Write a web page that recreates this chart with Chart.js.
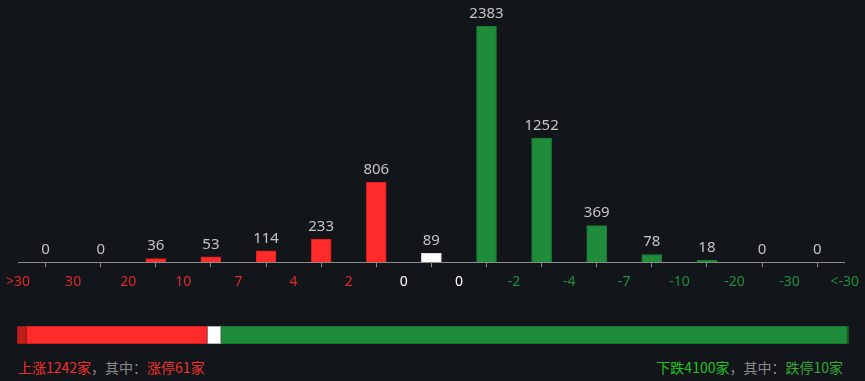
<!DOCTYPE html>
<html>
<head>
<meta charset="utf-8">
<script src="https://cdn.jsdelivr.net/npm/chart.js@4.4.1/dist/chart.umd.min.js"></script>
<style>
  html, body { margin: 0; padding: 0; background: #12161b; width: 865px; height: 381px; overflow: hidden; }
  #wrap { position: relative; width: 865px; height: 381px; }
  #main { position: absolute; left: 0; top: 0; }
  #ratio { position: absolute; left: 0; top: 320px; }
  .txt { position: absolute; top: 357px; font-family: "Noto Sans CJK SC", sans-serif; font-size: 14px; line-height: 20px; color: #8a8a8a; white-space: nowrap; }
  #lt { left: 18px; }
  #rt { right: 22px; }
  .up { color: #f0302a; }
  .dn { color: #22c422; }
  .dn2 { color: #38a838; }
</style>
</head>
<body>
<div id="wrap">
  <canvas id="main" width="865" height="296"></canvas>
  <canvas id="ratio" width="865" height="30"></canvas>
  <div class="txt" id="lt"><span class="up">上涨1242家</span>，其中：<span class="up">涨停61家</span></div>
  <div class="txt" id="rt"><span class="dn">下跌4100家</span>，其中：<span class="dn2">跌停10家</span></div>
</div>
<script>
// ---- data ----
const tickLabels = [">30", "30", "20", "10", "7", "4", "2", "0", "0", "-2", "-4", "-7", "-10", "-20", "-30", "<-30"];
const bucketCounts = [0, 0, 36, 53, 114, 233, 806, 89, 2383, 1252, 369, 78, 18, 0, 0];
const bucketKinds = ["up","up","up","up","up","up","up","flat","down","down","down","down","down","down","down"];
const tickKinds = ["up","up","up","up","up","up","up","flat","flat","down","down","down","down","down","down","down"];
const ratioLabels = ["涨停", "上涨", "平盘", "下跌", "跌停"];
const ratioValues = [61, 1181, 89, 4090, 10];

const BG = "#12161b";
const barFill = { up: "#ff2a2a", flat: "#ffffff", down: "#1e8c3a" };
const barEdge = { up: "#d21e1e", flat: "#dddddd", down: "#197a32" };
const tickColor = { up: "#e02a2a", flat: "#ffffff", down: "#1f8f3a" };

const valueLabels = {
  id: "valueLabels",
  afterDatasetsDraw(chart) {
    const ctx = chart.ctx;
    const meta = chart.getDatasetMeta(0);
    ctx.save();
    ctx.font = "15px 'Noto Sans', sans-serif";
    ctx.fillStyle = "#c4c4c4";
    ctx.textAlign = "center";
    ctx.textBaseline = "bottom";
    meta.data.forEach((el, i) => {
      ctx.fillText(String(bucketCounts[i]), el.x, el.y - 5);
    });
    ctx.restore();
  }
};

new Chart(document.getElementById("main"), {
  type: "bar",
  data: {
    datasets: [{
      data: bucketCounts.map((v, i) => ({ x: i + 0.5, y: v })),
      backgroundColor: bucketKinds.map(k => barFill[k]),
      borderColor: bucketKinds.map(k => barEdge[k]),
      borderWidth: 1,
      borderSkipped: "bottom",
      barThickness: 20
    }]
  },
  options: {
    responsive: false,
    animation: false,
    events: [],
    layout: { padding: { left: 11, right: 13, top: 26, bottom: 0 } },
    plugins: { legend: { display: false }, tooltip: { enabled: false } },
    scales: {
      x: {
        type: "linear",
        min: 0,
        max: tickLabels.length - 1,
        offset: false,
        border: { display: true, color: "#8c8c8c", width: 1 },
        grid: { drawOnChartArea: false, drawTicks: true, tickLength: 5, tickColor: "#8c8c8c" },
        ticks: {
          stepSize: 1,
          autoSkip: false,
          maxRotation: 0,
          padding: 6,
          font: { family: "'Noto Sans', sans-serif", size: 14 },
          color: ctx => tickColor[tickKinds[ctx.index]] || "#888",
          callback: v => tickLabels[v]
        }
      },
      y: {
        display: false,
        min: 0,
        max: Math.max(...bucketCounts)
      }
    }
  },
  plugins: [valueLabels]
});

const ratioColors = ["#c01e18", "#ff2a2a", "#ffffff", "#1f8c3a", "#16702c"];
const ratioEdges = ["#8e1a16", "#b82020", "#9a9a9a", "#176a2c", "#105522"];
new Chart(document.getElementById("ratio"), {
  type: "bar",
  data: {
    labels: [""],
    datasets: ratioValues.map((v, i) => ({
      label: ratioLabels[i],
      data: [v],
      backgroundColor: ratioColors[i],
      borderColor: ratioEdges[i],
      borderWidth: 1,
      borderSkipped: false,
      barPercentage: 1,
      categoryPercentage: 1
    }))
  },
  options: {
    indexAxis: "y",
    responsive: false,
    animation: false,
    events: [],
    layout: { padding: { left: 17, right: 16, top: 6, bottom: 6 } },
    plugins: { legend: { display: false }, tooltip: { enabled: false } },
    scales: {
      x: { display: false, stacked: true, min: 0, max: ratioValues.reduce((a, b) => a + b, 0) },
      y: { display: false, stacked: true }
    }
  }
});
</script>
</body>
</html>
